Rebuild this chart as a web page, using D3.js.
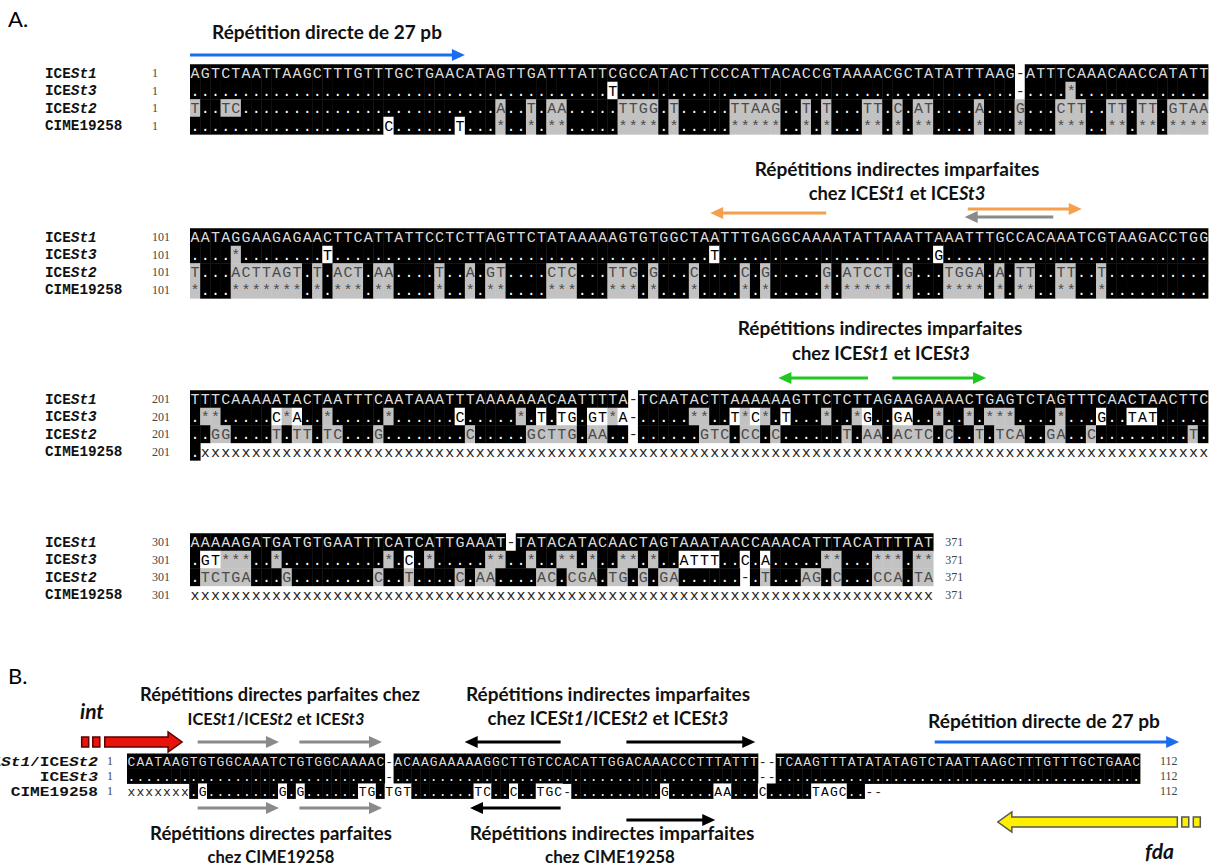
<!DOCTYPE html>
<meta charset="utf-8">
<style>
body { margin: 0; background: #fff; }
.seq { font-family: "Liberation Mono", "DejaVu Sans Mono", monospace; white-space: pre; }
.lab { font-family: "Liberation Mono", monospace; font-weight: bold; fill: #111; }
.num { font-family: "Liberation Serif", serif; fill: #444; }
.note { font-family: Lato, "Open Sans", sans-serif; font-weight: bold; fill: #111; }
</style>
<body>
<script src="https://cdn.jsdelivr.net/npm/d3@7/dist/d3.min.js"></script>
<script>
var width = 1220, height = 867;
var svg = d3.select("body").append("svg").attr("width", width).attr("height", height);

// ---- data -------------------------------------------------------------
var namesA = ["ICESt1", "ICESt3", "ICESt2", "CIME19258"];
var startsA = [1, 101, 201, 301];
var endA = 371;

// reference line of each block (ICESt1)
var refA = [
  "AGTCTAATTAAGCTTTGTTTGCTGAACATAGTTGATTTATTCGCCATACTTCCCATTACACCGTAAAACGCTATATTTAAG-ATTTCAAACAACCATATT",
  "AATAGGAAGAGAACTTCATTATTCCTCTTAGTTCTATAAAAAGTGTGGCTAATTTGAGGCAAAATATTAAATTAAATTTGCCACAAATCGTAAGACCTGG",
  "TTTCAAAAATACTAATTTCAATAAATTTAAAAAAACAATTTTA-TCAATACTTAAAAAAGTTCTCTTAGAAGAAAACTGAGTCTAGTTTCAACTAACTTC",
  "AAAAAGATGATGTGAATTTCATCATTGAAAT-TATACATACAACTAGTAAATAACCAAACATTTACATTTTAT"
];
// differences against ICESt1 (column -> residues), "." elsewhere
var st3A = [
  {41: "T", 81: "-", 86: "*"},
  {4: "*", 13: "T", 51: "T", 73: "G"},
  {1: "**", 8: "C*A", 13: "*", 19: "*", 26: "C", 32: "*", 34: "T", 36: "TG", 39: "GT", 41: "*A", 43: "-", 49: "**", 53: "T*C*", 58: "T", 62: "*", 65: "*G", 69: "GA", 73: "*", 76: "*", 78: "***", 85: "*", 89: "G", 92: "TAT"},
  {1: "GT", 3: "***", 8: "*", 19: "*", 21: "C", 23: "*", 29: "**", 33: "*", 36: "**", 39: "*", 42: "**", 45: "*", 48: "ATTT", 54: "C", 56: "A", 62: "**", 67: "***", 71: "**"}
];
var st2A = [
  {0: "T", 3: "TC", 30: "A", 33: "T", 35: "AA", 42: "TTGG", 47: "T", 53: "TTAAG", 60: "T", 62: "T", 66: "TT", 69: "C", 71: "AT", 77: "A", 81: "G", 85: "CTT", 90: "TT", 93: "TT", 96: "GTAA"},
  {0: "T", 4: "ACTTAGT", 12: "T", 14: "ACT", 18: "AA", 24: "T", 27: "A", 29: "GT", 35: "CTC", 41: "TTG", 45: "G", 49: "C", 54: "C", 56: "G", 62: "G", 64: "ATCCT", 70: "G", 74: "TGGA", 79: "A", 81: "TT", 85: "TT", 89: "T"},
  {2: "GG", 8: "T", 10: "TT", 13: "TC", 18: "G", 27: "C", 33: "GCTTG", 39: "AA", 43: "-", 50: "GTC", 54: "CC", 57: "C", 64: "T", 66: "AA", 69: "ACTC", 74: "C", 77: "T", 79: "TCA", 84: "GA", 88: "C", 98: "T"},
  {1: "TCTGA", 9: "G", 18: "C", 21: "T", 26: "C", 28: "AA", 34: "AC", 37: "CGA", 41: "TG", 44: "G", 46: "GA", 54: "-", 56: "T", 60: "AG", 63: "C", 67: "CCA", 71: "TA"}
];
var cimeA = [
  {19: "C", 26: "T", 30: "*", 33: "*", 35: "**", 42: "****", 47: "*", 53: "*****", 60: "*", 62: "*", 66: "**", 69: "*", 71: "**", 77: "*", 81: "*", 85: "***", 90: "**", 93: "**", 96: "****"},
  {0: "*", 4: "*******", 12: "*", 14: "***", 18: "**", 24: "*", 27: "*", 29: "**", 35: "***", 41: "***", 45: "*", 49: "*", 54: "*", 56: "*", 62: "*", 64: "*****", 70: "*", 74: "****", 79: "*", 81: "**", 85: "**", 89: "*"},
  {1: "xxxxxxxxxxxxxxxxxxxxxxxxxxxxxxxxxxxxxxxxxxxxxxxxxxxxxxxxxxxxxxxxxxxxxxxxxxxxxxxxxxxxxxxxxxxxxxxxxxx"},
  {0: "xxxxxxxxxxxxxxxxxxxxxxxxxxxxxxxxxxxxxxxxxxxxxxxxxxxxxxxxxxxxxxxxxxxxxxxxx"}
];

var namesB = ["ICESt1/ICESt2", "ICESt3", "CIME19258"];
var refB = "CAATAAGTGTGGCAAATCTGTGGCAAAAC-ACAAGAAAAAGGCTTGTCCACATTGGACAAACCCTTTATTT--TCAAGTTTATATATAGTCTAATTAAGCTTTGTTTGCTGAAC";
var st3B = {29: "-", 71: "--"};
var cimeB = {0: "xxxxxxx", 8: "G", 17: "G", 19: "G", 26: "TG", 29: "TGT", 39: "TC", 43: "C", 46: "TGC", 49: "-", 60: "G", 66: "AA", 71: "C", 77: "TAGC", 83: "--", 85: "                             "};
var endB = 112;

// repeats, in alignment columns
var arrowsA = [
  {from: 0, to: 27, dir: 1, color: "#1a6cf0", y: 55},
  {from: 51.1, to: 62.5, dir: -1, color: "#f6a04d", y: 213},
  {from: 76.4, to: 87.6, dir: 1, color: "#f6a04d", y: 209},
  {from: 76.1, to: 84.8, dir: -1, color: "#8a8a8a", y: 217},
  {from: 57.8, to: 66.6, dir: -1, color: "#1ec81e", y: 378},
  {from: 69, to: 78.2, dir: 1, color: "#1ec81e", y: 378}
];
var arrowsB = [
  {from: 7.95, to: 17.1, dir: 1, color: "#8a8a8a", y: 742},
  {from: 19.4, to: 28.7, dir: 1, color: "#8a8a8a", y: 742},
  {from: 38.0, to: 48.8, dir: -1, color: "#000", y: 742},
  {from: 56.2, to: 70.7, dir: 1, color: "#000", y: 742},
  {from: 90.9, to: 118.4, dir: 1, color: "#1a6cf0", y: 742},
  {from: 7.95, to: 17.1, dir: 1, color: "#8a8a8a", y: 808},
  {from: 19.4, to: 28.7, dir: 1, color: "#8a8a8a", y: 808},
  {from: 38.6, to: 48.8, dir: -1, color: "#000", y: 808},
  {from: 56.2, to: 66.2, dir: 1, color: "#000", y: 820}
];
// genes (block arrows), in columns of panel B
var genesB = [
  {name: "int", from: -2.5, to: 6.2, dir: 1, color: "#e8140c", stroke: "#5a0000", y: 742, boxes: [-5.1, -3.85]},
  {name: "fda", from: 98, to: 118.2, dir: -1, color: "#fff000", stroke: "#555", y: 822, boxes: [118.7, 120]}
];

// ---- helpers ----------------------------------------------------------
function expand(n, diffs) {
  var a = new Array(n).fill(".");
  Object.keys(diffs).forEach(function(k) {
    var s = diffs[k];
    for (var j = 0; j < s.length && +k + j < n; j++) a[+k + j] = s[j];
  });
  return a.join("");
}

function styledName(sel, name) {
  name.split(/(St\d)/).filter(function(p) { return p; }).forEach(function(p) {
    sel.append("tspan").text(p).style("font-style", /^St\d$/.test(p) ? "italic" : "normal");
  });
}

function cellFill(r, ch, grayLetters) {
  if (ch === "-" || ch === "x" || ch === " ") return "none";
  if (r === 0 || ch === ".") return "#000";
  if (ch === "*") return "#c2c2c2";
  return grayLetters ? "#c2c2c2" : "#fff";
}
function cellText(r, ch, fill) {
  if (ch === "x" || ch === "-") return "#222";
  if (fill === "#000") return r === 0 ? "#dcdcdc" : "#fff";
  if (fill === "#c2c2c2") return "#4a4a4a";
  return "#000";
}

// one text per row, letter-spaced so each glyph sits in its column
function drawRows(g, rows, x, y, fontSize, grayRow) {
  var cw = x(1) - x(0), adv = fontSize * 0.6, ls = cw - adv;
  rows.forEach(function(seq, r) {
    var cells = seq.split("").map(function(ch, i) {
      return {i: i, ch: ch, fill: cellFill(r, ch, r === grayRow)};
    });
    var gr = g.append("g");
    gr.selectAll("rect").data(cells.filter(function(d) { return d.fill !== "none"; }))
      .enter().append("rect")
      .attr("x", function(d) { return x(d.i); })
      .attr("y", y(r))
      .attr("width", cw + 0.4)
      .attr("height", y.bandwidth() + 0.4)
      .attr("fill", function(d) { return d.fill; });
    gr.append("text")
      .attr("class", "seq")
      .attr("x", x(0) + ls / 2)
      .attr("y", y(r) + y.bandwidth() / 2)
      .attr("dy", "0.36em")
      .attr("font-size", fontSize)
      .attr("letter-spacing", ls)
      .selectAll("tspan").data(cells).enter().append("tspan")
      .attr("fill", function(d) { return cellText(r, d.ch, d.fill); })
      .text(function(d) { return d.ch === " " ? "\u00a0" : d.ch; });
  });
}

function lineArrow(g, x1, x2, yy, dir, color, sw, hl, hw) {
  var tail = dir > 0 ? x1 : x2, head = dir > 0 ? x2 : x1;
  g.append("line").attr("x1", tail).attr("x2", head - dir * hl * 0.8)
    .attr("y1", yy).attr("y2", yy).attr("stroke", color).attr("stroke-width", sw);
  g.append("path")
    .attr("d", "M" + head + "," + yy + "L" + (head - dir * hl) + "," + (yy - hw) + "L" + (head - dir * hl) + "," + (yy + hw) + "Z")
    .attr("fill", color);
}

function note(g, parts, cx, y, targetW) {
  var t = g.append("text").attr("class", "note").attr("x", cx).attr("y", y)
    .attr("text-anchor", "middle").attr("font-size", 16);
  styledName(t, parts);
  var w = t.node().getComputedTextLength();
  if (targetW && w > 0) t.attr("font-size", 16 * targetW / w);
  return t;
}

function rowLabel(g, name, xx, yy, anchor, charW, fs) {
  var t = g.append("text").attr("class", "lab").attr("x", xx).attr("y", yy)
    .attr("dy", "0.35em").attr("font-size", fs).attr("text-anchor", anchor)
    .attr("textLength", name.length * charW).attr("lengthAdjust", "spacingAndGlyphs");
  styledName(t, name);
}

// ---- panel A ----------------------------------------------------------
var rowH = 17.5;
var blockMid = [73, 237, 399, 542];   // centre of the ICESt1 line of each block
var xA = d3.scaleLinear().domain([0, 100]).range([190, 1208]);

svg.append("text").attr("x", 8).attr("y", 27).attr("font-family", "Lato, sans-serif")
  .attr("font-size", 22).text("A.");

refA.forEach(function(ref, b) {
  var n = ref.length;
  var rows = [ref, expand(n, st3A[b]), expand(n, st2A[b]), expand(n, cimeA[b])];
  var top = blockMid[b] - rowH / 2;
  var y = d3.scaleBand().domain(d3.range(rows.length)).range([top, top + rows.length * rowH]);
  var g = svg.append("g");
  drawRows(g, rows, xA, y, 15, 2);
  namesA.forEach(function(nm, r) {
    rowLabel(g, nm, 45, y(r) + rowH / 2, "start", 8.6, 14);
    g.append("text").attr("class", "num").attr("x", 152).attr("y", y(r) + rowH / 2)
      .attr("dy", "0.35em").attr("font-size", 12).text(startsA[b]);
    if (b === refA.length - 1) {
      g.append("text").attr("class", "num").attr("x", xA(n) + 12).attr("y", y(r) + rowH / 2)
        .attr("dy", "0.35em").attr("font-size", 12).text(endA);
    }
  });
});

var ann = svg.append("g");
arrowsA.forEach(function(a) {
  lineArrow(ann, xA(a.from), xA(a.to), a.y, a.dir, a.color, 3, 13, 6);
});
note(ann, "Répétition directe de 27 pb", 327, 39, 230);
note(ann, "Répétitions indirectes imparfaites", 897, 176, 285);
note(ann, "chez ICESt1 et ICESt3", 897, 200, 177);
note(ann, "Répétitions indirectes imparfaites", 880, 335, 285);
note(ann, "chez ICESt1 et ICESt3", 881, 360, 178);

// ---- panel B ----------------------------------------------------------
var nB = refB.length, rowHB = 15;
var xB = d3.scaleLinear().domain([0, nB]).range([127, 1140]);
var yB = d3.scaleBand().domain([0, 1, 2]).range([761 - rowHB / 2, 761 - rowHB / 2 + 3 * rowHB]);
var rowsB = [refB, expand(nB, st3B), expand(nB, cimeB)];

svg.append("text").attr("x", 8).attr("y", 684).attr("font-family", "Lato, sans-serif")
  .attr("font-size", 22).text("B.");

var gB = svg.append("g");
drawRows(gB, rowsB, xB, yB, 13, -1);
namesB.forEach(function(nm, r) {
  rowLabel(gB, nm, 98, yB(r) + rowHB / 2, "end", 9.7, 13);
  gB.append("text").attr("class", "num").attr("x", 107).attr("y", yB(r) + rowHB / 2)
    .attr("dy", "0.35em").attr("font-size", 12).text(1);
  gB.append("text").attr("class", "num").attr("x", 1160).attr("y", yB(r) + rowHB / 2)
    .attr("dy", "0.35em").attr("font-size", 12).text(endB);
});

arrowsB.forEach(function(a) {
  lineArrow(gB, xB(a.from), xB(a.to), a.y, a.dir, a.color, 3, 13, 6);
});
genesB.forEach(function(gn) {
  var x1 = xB(gn.from), x2 = xB(gn.to), yy = gn.y, hl = 14, h = 5, hw = 10;
  var head = gn.dir > 0 ? x2 : x1, tail = gn.dir > 0 ? x1 : x2;
  var base = head - gn.dir * hl;
  gB.append("path")
    .attr("d", "M" + tail + "," + (yy - h) + "L" + base + "," + (yy - h) + "L" + base + "," + (yy - hw) +
      "L" + head + "," + yy + "L" + base + "," + (yy + hw) + "L" + base + "," + (yy + h) + "L" + tail + "," + (yy + h) + "Z")
    .attr("fill", gn.color).attr("stroke", gn.stroke).attr("stroke-width", 1.5);
  gn.boxes.forEach(function(bx) {
    gB.append("rect").attr("x", xB(bx)).attr("y", yy - h).attr("width", 7).attr("height", 2 * h)
      .attr("fill", gn.color).attr("stroke", gn.stroke).attr("stroke-width", 1.5);
  });
});
svg.append("text").attr("class", "note").attr("x", 80).attr("y", 719)
  .attr("font-size", 21).style("font-style", "italic").text("int");
svg.append("text").attr("class", "note").attr("x", 1145).attr("y", 859)
  .attr("font-size", 21).style("font-style", "italic").text("fda");

note(gB, "Répétitions directes parfaites chez", 280, 701, 280);
note(gB, "ICESt1/ICESt2 et ICESt3", 276, 725, 177);
note(gB, "Répétitions indirectes imparfaites", 608, 701, 284);
note(gB, "chez ICESt1/ICESt2 et ICESt3", 608, 725, 241);
note(gB, "Répétition directe de 27 pb", 1044, 728, 232);
note(gB, "Répétitions directes parfaites", 271, 840, 242);
note(gB, "chez CIME19258", 271, 863, 127);
note(gB, "Répétitions indirectes imparfaites", 612, 840, 285);
note(gB, "chez CIME19258", 610, 863, 130);
</script>
</body>
</html>
